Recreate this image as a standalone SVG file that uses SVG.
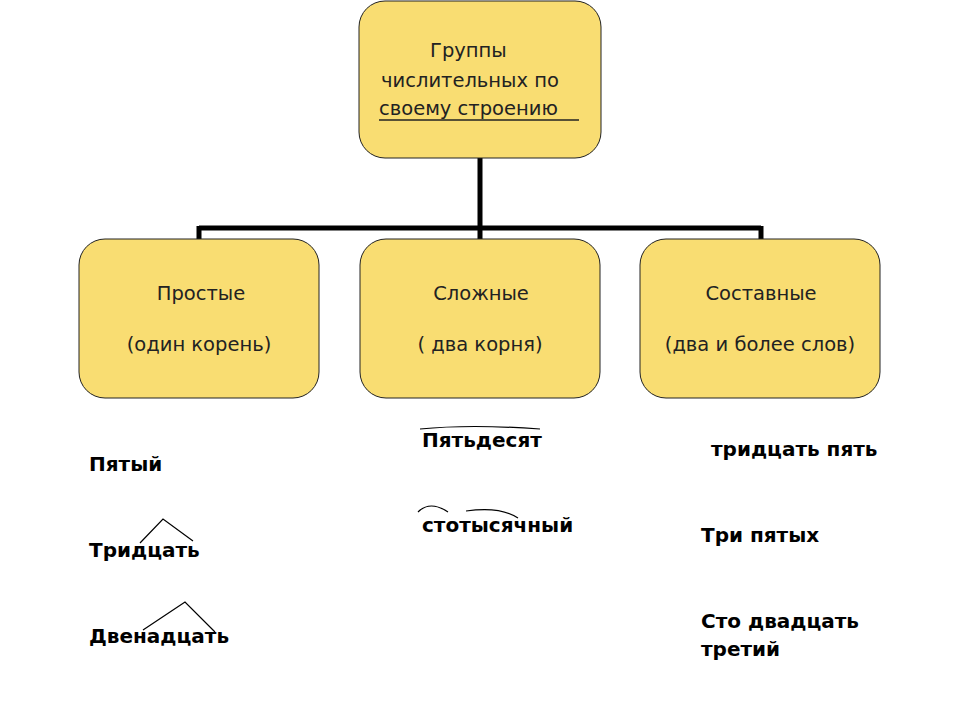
<svg xmlns="http://www.w3.org/2000/svg" width="960" height="720" viewBox="0 0 960 720">
<style>
.box{fill:#F9DD72;stroke:#222;stroke-width:1}
.t{font-family:"DejaVu Sans",sans-serif;font-size:19.5px;fill:#222}
.b{font-family:"DejaVu Sans",sans-serif;font-size:20px;font-weight:bold;fill:#000}
.arc{fill:none;stroke:#000;stroke-width:1.2}
</style>
<rect width="960" height="720" fill="#fff"/>
<g id="connectors" stroke="#000" stroke-width="5" fill="none">
<path d="M480 158 V228 M199 228 H761 M199 226 V240 M480 226 V240 M761 226 V240"/>
</g>
<g id="root">
<rect class="box" x="359" y="1" width="242" height="157" rx="26"/>
<text class="t" x="430" y="57">Группы</text>
<text class="t" x="381" y="87">числительных по</text>
<text class="t" x="379" y="115">своему строению</text>
<line x1="379" y1="120" x2="579" y2="120" stroke="#222" stroke-width="1.5"/>
</g>
<g id="simple">
<rect class="box" x="79" y="239" width="240" height="159" rx="26"/>
<text class="t" x="201" y="300" text-anchor="middle">Простые</text>
<text class="t" x="199" y="351" text-anchor="middle">(один корень)</text>
</g>
<g id="complex">
<rect class="box" x="360" y="239" width="240" height="159" rx="26"/>
<text class="t" x="481" y="300" text-anchor="middle">Сложные</text>
<text class="t" x="480" y="351" text-anchor="middle">( два корня)</text>
</g>
<g id="compound">
<rect class="box" x="640" y="239" width="240" height="159" rx="26"/>
<text class="t" x="761" y="300" text-anchor="middle">Составные</text>
<text class="t" x="760" y="351" text-anchor="middle">(два и более слов)</text>
</g>
<g id="examples">
<text class="b" x="89" y="471">Пятый</text>
<text class="b" x="89" y="557">Тридцать</text>
<path class="arc" d="M140 543 L163 519 L193 541"/>
<text class="b" x="89" y="643">Двенадцать</text>
<path class="arc" d="M143 630 L185 602 L215 632"/>
<text class="b" x="422" y="447">Пятьдесят</text>
<path class="arc" d="M420 429 Q470 424 540 429"/>
<text class="b" x="422" y="532">стотысячный</text>
<path class="arc" d="M418 512 Q430 500 448 512 M466 511 Q500 506 518 518"/>
<text class="b" x="711" y="456">тридцать пять</text>
<text class="b" x="701" y="542">Три пятых</text>
<text class="b" x="701" y="628">Сто двадцать</text>
<text class="b" x="701" y="656">третий</text>
</g>
</svg>
